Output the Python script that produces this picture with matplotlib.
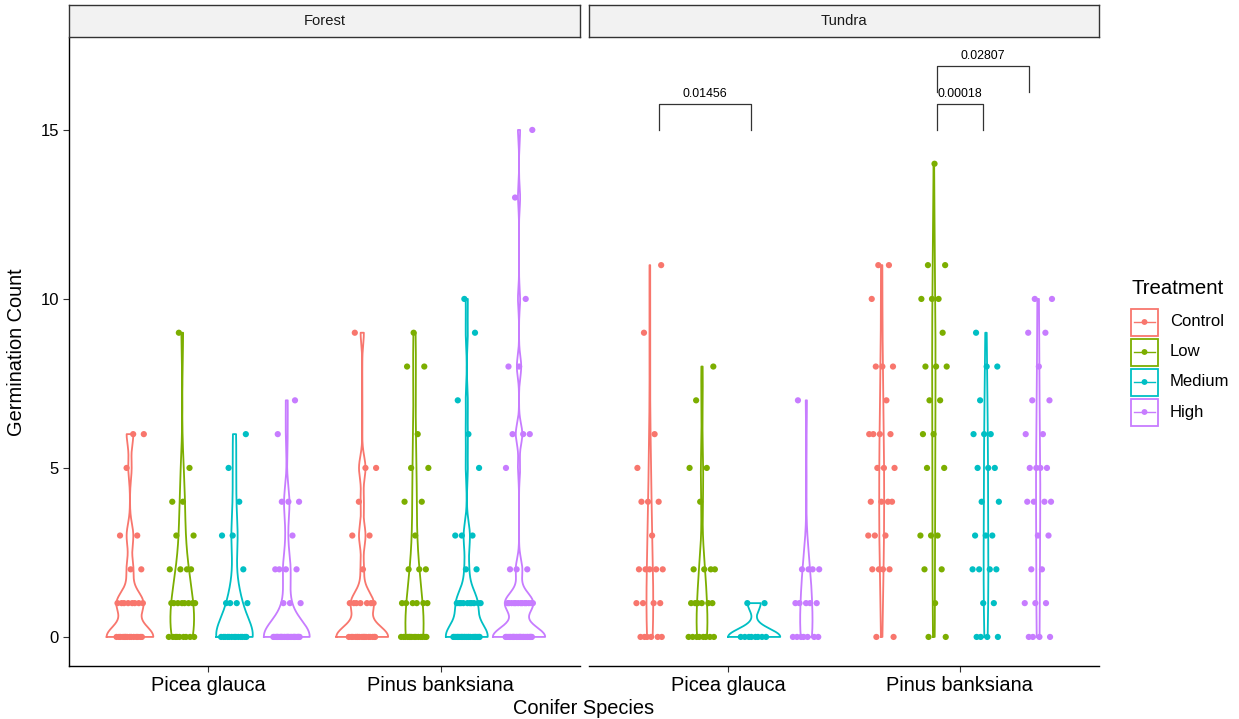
import numpy as np
import matplotlib
matplotlib.use("Agg")
import matplotlib.pyplot as plt
from matplotlib.patches import Rectangle

plt.rcParams['font.family'] = ['Liberation Sans', 'DejaVu Sans']

habitats = ['Forest', 'Tundra']
species = ['Picea glauca', 'Pinus banksiana']
treatments = ['Control', 'Low', 'Medium', 'High']
colors = ['#F8766D', '#7CAE00', '#00BFC4', '#C77CFF']

# germination count -> number of seedlings with that count
forest_picea = {
    'Control': {0: 14, 1: 8, 2: 2, 3: 2, 5: 1, 6: 2},
    'Low': {0: 9, 1: 8, 2: 4, 3: 2, 4: 2, 5: 1, 9: 1},
    'Medium': {0: 13, 1: 4, 2: 1, 3: 2, 4: 1, 5: 1, 6: 1},
    'High': {0: 26, 1: 3, 2: 4, 3: 1, 4: 3, 6: 1, 7: 1},
}
forest_pinus = {
    'Control': {0: 16, 1: 7, 2: 1, 3: 2, 4: 1, 5: 2, 9: 1},
    'Low': {0: 14, 1: 6, 2: 3, 3: 1, 4: 2, 5: 2, 6: 1, 8: 2, 9: 1},
    'Medium': {0: 20, 1: 10, 2: 2, 3: 3, 5: 1, 6: 1, 7: 1, 9: 1, 10: 1},
    'High': {0: 24, 1: 13, 2: 3, 5: 1, 6: 3, 8: 2, 10: 1, 13: 1, 15: 1},
}
tundra_picea = {
    'Control': {0: 6, 1: 4, 2: 5, 3: 1, 4: 3, 5: 1, 6: 1, 9: 1, 11: 1},
    'Low': {0: 8, 1: 6, 2: 4, 4: 1, 5: 2, 7: 1, 8: 1},
    'Medium': {0: 8, 1: 2},
    'High': {0: 7, 1: 5, 2: 4, 7: 1},
}
tundra_pinus = {
    'Control': {0: 2, 2: 4, 3: 3, 4: 4, 5: 3, 6: 4, 7: 1, 8: 3, 10: 1, 11: 2},
    'Low': {0: 2, 1: 1, 2: 2, 3: 3, 5: 2, 6: 2, 7: 2, 8: 3, 9: 1, 10: 3, 11: 2, 14: 1},
    'Medium': {0: 4, 1: 2, 2: 4, 3: 3, 4: 2, 5: 3, 6: 3, 7: 1, 8: 2, 9: 1},
    'High': {0: 4, 1: 3, 2: 2, 3: 2, 4: 4, 5: 4, 6: 2, 7: 2, 8: 1, 9: 2, 10: 2},
}
panel_data = {
    'Forest': [forest_picea, forest_pinus],
    'Tundra': [tundra_picea, tundra_pinus],
}

# significance brackets on the Tundra panel: (xmin, xmax, bar y, label)
tundra_signif = [
    (0.7, 1.1, 15.77, '0.01456'),
    (1.9, 2.1, 15.77, '0.00018'),
    (1.9, 2.3, 16.9, '0.02807'),
]


def bw_nrd0(x):
    hi = np.std(x, ddof=1)
    q25, q75 = np.percentile(x, [25, 75])
    lo = min(hi, (q75 - q25) / 1.34)
    if lo == 0:
        lo = hi if hi else (abs(x[0]) if x[0] else 1.0)
    return 0.9 * lo * len(x) ** -0.2


def violin_density(x):
    bw = bw_nrd0(x)
    grid = np.linspace(x.min(), x.max(), 512)
    dens = np.exp(-0.5 * ((grid[:, None] - x[None, :]) / bw) ** 2).sum(axis=1)
    dens /= len(x) * bw * np.sqrt(2 * np.pi)
    return grid, dens


W, H = 1239, 719
fig = plt.figure(figsize=(W / 100, H / 100), dpi=100)


def fig_rect(x0, y0, x1, y1):
    return [x0 / W, 1 - y1 / H, (x1 - x0) / W, (y1 - y0) / H]


panel_px = {'Forest': (69, 580), 'Tundra': (589, 1099)}
dodge = 0.9 / len(treatments)

for p, hab in enumerate(habitats):
    x0, x1 = panel_px[hab]
    ax = fig.add_axes(fig_rect(x0, 38, x1, 666))
    strip = fig.add_axes(fig_rect(x0, 5, x1, 37))
    strip.set_xticks([])
    strip.set_yticks([])
    strip.set_facecolor('#F2F2F2')
    for s in strip.spines.values():
        s.set_color('#333333')
        s.set_linewidth(1.0)
    strip.text(0.5, 0.5, hab, ha='center', va='center', fontsize=10.6,
               color='#1A1A1A', transform=strip.transAxes)

    groups = []
    for s_i, sp_data in enumerate(panel_data[hab]):
        for t_i, tr in enumerate(treatments):
            counts = sp_data[tr]
            vals = np.repeat(list(counts.keys()), list(counts.values())).astype(float)
            grid, dens = violin_density(vals)
            xc = s_i + 1 + (t_i - 1.5) * dodge
            groups.append((xc, t_i, vals, grid, dens))
    dmax = max(g[4].max() for g in groups)

    for xc, t_i, vals, grid, dens in groups:
        hw = dens / dmax * dodge / 2
        px = np.concatenate([xc - hw, (xc + hw)[::-1], [xc - hw[0]]])
        py = np.concatenate([grid, grid[::-1], [grid[0]]])
        ax.plot(px, py, color=colors[t_i], lw=1.3, zorder=2)
        n = len(vals)
        jit = ((np.arange(n) * 0.618034 + 0.31) % 1 - 0.5) * 2 * 0.06
        ax.scatter(xc + jit, vals, s=20, color=colors[t_i], edgecolors='none',
                   zorder=3)

    ax.set_xlim(0.4, 2.6)
    ax.set_ylim(-0.86, 17.72)
    ax.set_xticks([1, 2])
    ax.set_xticklabels(species, fontsize=14.4, color='black')
    ax.spines['top'].set_visible(False)
    ax.spines['right'].set_visible(False)
    for s in ['left', 'bottom']:
        ax.spines[s].set_linewidth(1.0)
        ax.spines[s].set_color('black')
    ax.tick_params(axis='x', length=4.3, width=0.8, color='#333333', pad=3)
    if p == 0:
        ax.set_yticks([0, 5, 10, 15])
        ax.tick_params(axis='y', length=4.3, width=0.8, color='#333333',
                       labelsize=12, labelcolor='black', pad=3)
        ax.set_ylabel('Germination Count', fontsize=14.4, labelpad=10)
    else:
        ax.spines['left'].set_visible(False)
        ax.set_yticks([])
        for xmin, xmax, yb, lab in tundra_signif:
            ax.plot([xmin, xmin, xmax, xmax], [yb - 0.77, yb, yb, yb - 0.77],
                    color='#333333', lw=0.9, zorder=4)
            ax.annotate(lab, ((xmin + xmax) / 2, yb), xytext=(0, 3),
                        textcoords='offset points', ha='center', va='bottom',
                        fontsize=8.9, color='black')

fig.text(584 / W, 1 - 708 / H, 'Conifer Species', ha='center', va='center',
         fontsize=14.4)

# legend
leg = fig.add_axes(fig_rect(1110, 270, 1239, 440))
leg.set_xlim(1110, 1239)
leg.set_ylim(440, 270)
leg.axis('off')
leg.text(1131, 288, 'Treatment', ha='left', va='center', fontsize=14.7)
for t_i, tr in enumerate(treatments):
    yc = 322 + 30 * t_i
    leg.add_patch(Rectangle((1131, yc - 13.5), 27, 27, fill=False,
                            edgecolor=colors[t_i], lw=1.3))
    leg.plot([1134, 1155], [yc, yc], color=colors[t_i], lw=1.0)
    leg.scatter([1144.5], [yc], s=18, color=colors[t_i], edgecolors='none')
    leg.text(1170, yc, tr, ha='left', va='center', fontsize=12)

fig.savefig('out.png', dpi=100)
